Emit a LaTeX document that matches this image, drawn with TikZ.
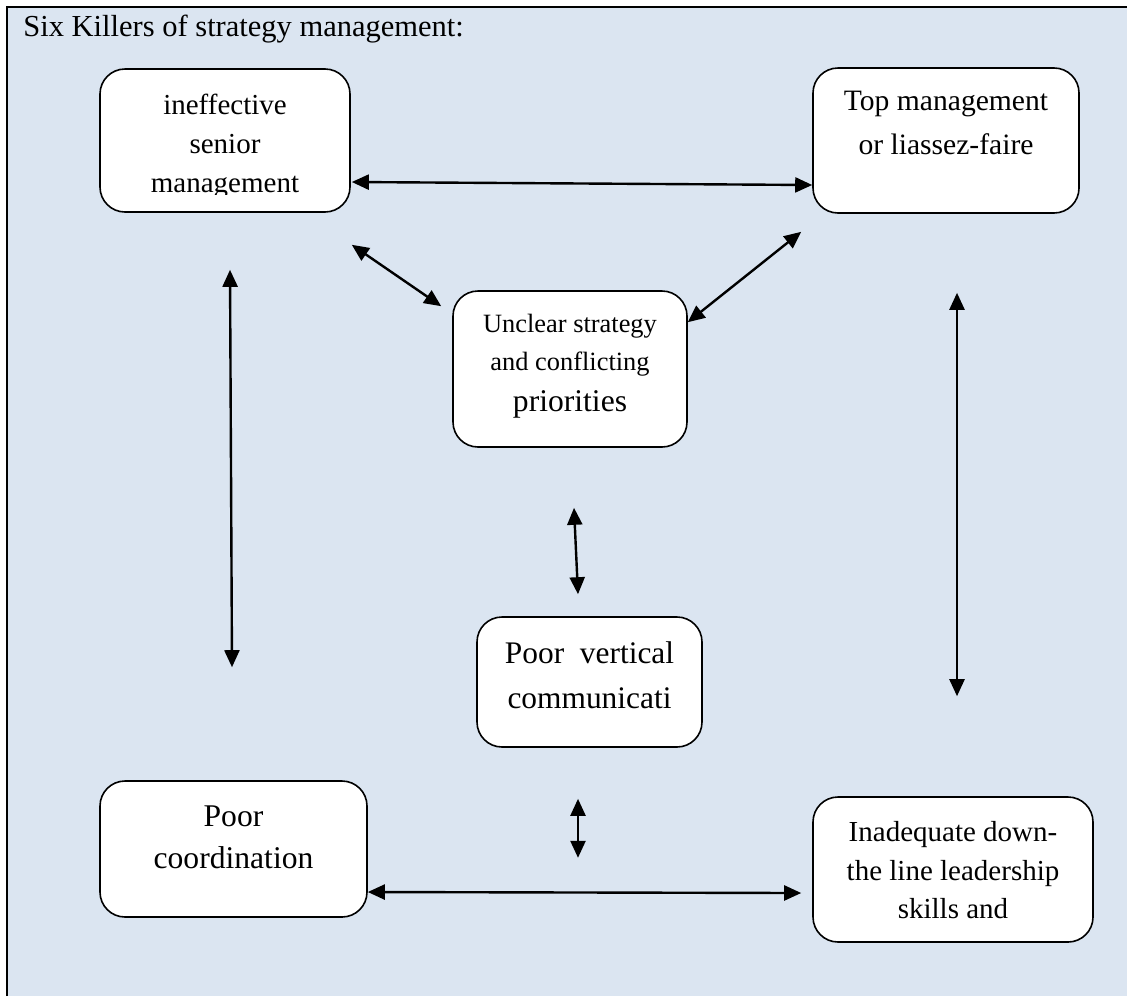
\documentclass[tikz,border=0pt]{standalone}
\usepackage{fontspec}
\setmainfont{Liberation Serif}
\usepackage{tikz}
\usetikzlibrary{arrows.meta,positioning,calc}
\definecolor{panel}{RGB}{219,229,241}

\begin{document}
\begin{tikzpicture}[
  x=0.5pt, y=-0.5pt,
  box/.style={draw, line width=0.8pt, rounded corners=12.5pt, fill=white},
  boxtext/.style={align=center, inner sep=0pt},
  arrow/.style={{Triangle[length=8.5pt,width=7.5pt]}-{Triangle[length=8.5pt,width=7.5pt]}, line width=1.2pt}
]
  \useasboundingbox (0,0) rectangle (1127,996);
  \fill[panel] (8,8) rectangle (1127,996);
  \draw[line width=1pt] (7,996) -- (7,7) -- (1127,7);

  \node[anchor=base west, inner sep=0pt, font=\fontsize{15.25}{18}\selectfont] (title) at (23,36) {Six Killers of strategy management:};

  \node[box, minimum width=125pt, minimum height=71.5pt] (senior) at (225,140.5) {};
  \node[box, minimum width=133pt, minimum height=72.5pt] (topmgmt) at (946,140.5) {};
  \node[box, minimum width=117pt, minimum height=78pt] (unclear) at (570,369) {};
  \node[box, minimum width=112.5pt, minimum height=65pt] (vertical) at (589.5,682) {};
  \node[box, minimum width=133.5pt, minimum height=68pt] (coord) at (233.5,849) {};
  \node[box, minimum width=140pt, minimum height=72.5pt] (leader) at (953,869.5) {};

  \begin{scope}
    \clip (100,69) rectangle (350,194);
    \node[boxtext, font=\fontsize{14.5}{19.5}\selectfont, below=12.5pt of senior.north] (seniorT) {ineffective\\senior\\management};
  \end{scope}
  \node[boxtext, font=\fontsize{14.8}{22}\selectfont, below=12pt of topmgmt.north] (topmgmtT) {Top management\\or liassez-faire};
  \node[boxtext, font=\fontsize{13.2}{19}\selectfont, below=12pt of unclear.north] (unclearT) {Unclear strategy\\and conflicting\\[1.5pt]{\fontsize{15.8}{20.5}\selectfont priorities}};
  \node[boxtext, font=\fontsize{15.7}{22.5}\selectfont, below=12.3pt of vertical.north] (verticalT) {Poor\ \ vertical\\communicati};
  \node[boxtext, font=\fontsize{15.8}{21}\selectfont, below=12.7pt of coord.north] (coordT) {Poor\\coordination};
  \node[boxtext, font=\fontsize{14.5}{19.25}\selectfont, below=12.6pt of leader.north] (leaderT) {Inadequate down-\\the line leadership\\skills and};

  \draw[arrow] ($(senior.east)+(1,41.5)$) -- ($(topmgmt.west)+(0,44.5)$);
  \draw[arrow] ($(senior.south east)+(1,32)$) -- ($(unclear.north west)+(-11,16)$);
  \draw[arrow] ($(topmgmt.south west)+(-11,18)$) -- ($(unclear.north east)+(0,32)$);
  \draw[arrow] ($(senior.south)+(5,57)$) -- ($(coord.north)+(-1.5,-113)$);
  \draw[arrow] ($(topmgmt.south)+(11,79)$) -- ($(leader.north)+(4,-100)$);
  \draw[arrow] ($(unclear.south)+(4,60)$) -- ($(vertical.north)+(-11.5,-22)$);
  \draw[arrow] ($(vertical.south)+(-11.5,51)$) -- ($(vertical.south)+(-11.5,110)$);
  \draw[arrow] ($(coord.east)+(0,43)$) -- ($(leader.west)+(-11,23.5)$);
\end{tikzpicture}
\end{document}
